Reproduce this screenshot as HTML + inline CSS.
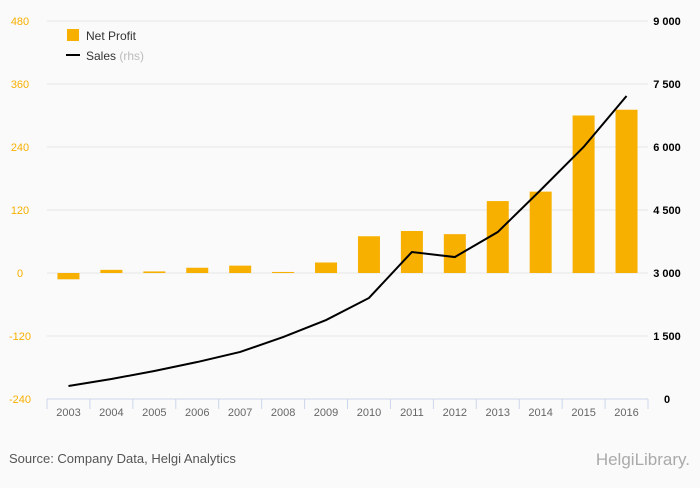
<!DOCTYPE html>
<html><head><meta charset="utf-8"><style>
body{margin:0;background:#fafafa;font-family:"Liberation Sans",sans-serif;}
svg text{font-family:"Liberation Sans",sans-serif;}
</style></head><body>
<svg id="c" width="700" height="483" xmlns="http://www.w3.org/2000/svg">
<rect width="700" height="483" fill="#fafafa"/>
<g id="grid"></g><g id="bars"></g><g id="line"></g><g id="axes"></g>
<g>
<rect x="67" y="29" width="12" height="12" fill="#f7b000"/>
<text x="86" y="40" font-size="12" fill="#333">Net Profit</text>
<line x1="66" y1="55" x2="80" y2="55" stroke="#000" stroke-width="2"/>
<text x="86" y="60" font-size="12" fill="#333">Sales <tspan fill="#bbb">(rhs)</tspan></text>
</g>
<text x="9" y="463" font-size="13" fill="#555">Source: Company Data, Helgi Analytics</text>
<text x="690" y="465" font-size="17" fill="#aaa" text-anchor="end" font-family="Liberation Serif">HelgiLibrary.</text>
</svg>
<script>
const years=["2003","2004","2005","2006","2007","2008","2009","2010","2011","2012","2013","2014","2015","2016"];
const profit=[-12,6,3,10,14,2,20,70,80,74,137,155,300,311];
const sales=[310,476,667,880,1120,1476,1880,2405,3500,3380,3975,4976,6000,7214];
const leftTicks=[480,360,240,120,0,-120,-240];
const rightTicks=["9 000","7 500","6 000","4 500","3 000","1 500","0"];
const rightVals=[9000,7500,6000,4500,3000,1500,0];
const NS="http://www.w3.org/2000/svg";
const x0=47,x1=648,yT=21,yB=399;
const step=(x1-x0)/years.length;
const xc=i=>x0+step*(i+0.5);
const yL=v=>yT+(480-v)/720*(yB-yT);
const yR=v=>yT+(9000-v)/9000*(yB-yT);
function mk(t,a,p){const e=document.createElementNS(NS,t);for(const k in a)e.setAttribute(k,a[k]);p.appendChild(e);return e;}
const grid=document.getElementById('grid'),axes=document.getElementById('axes');
leftTicks.forEach((v,i)=>{
 const y=yL(v);
 if(i<leftTicks.length-1){const l=mk('line',{x1:x0,x2:x1,y1:y,y2:y,stroke:'#e6e6e6'},grid);
 
 }
 const t=mk('text',{x:20,y:y+4,'font-size':11,fill:'#f7b000','text-anchor':'middle'},axes);t.textContent=v;
 
 
});
rightVals.forEach((v,i)=>{
 const t=mk('text',{x:667,y:yR(v)+4,'font-size':11,fill:'#000','font-weight':'bold','text-anchor':'middle'},axes);t.textContent=rightTicks[i];
 
 
});
const ax=mk('line',{x1:x0,x2:x1,y1:yB,y2:yB,stroke:'#ccd6eb'},axes);


for(let i=0;i<=years.length;i++){const tk=mk('line',{x1:x0+step*i,x2:x0+step*i,y1:yB,y2:yB+10,stroke:'#ccd6eb'},axes);
 
 }
years.forEach((yr,i)=>{const t=mk('text',{x:xc(i),y:yB+17,'font-size':11,fill:'#666','text-anchor':'middle'},axes);t.textContent=yr;
 
 });
const bars=document.getElementById('bars');
profit.forEach((v,i)=>{const y=Math.min(yL(v),yL(0)),h=Math.abs(yL(v)-yL(0));
 const r=mk('rect',{x:xc(i)-11,y:y,width:22,height:Math.max(h,1),fill:'#f7b000'},bars);
 
 });
const pl=mk('polyline',{points:sales.map((v,i)=>xc(i)+','+yR(v)).join(' '),fill:'none',stroke:'#000','stroke-width':2},document.getElementById('line'));


</script>
</body></html>
